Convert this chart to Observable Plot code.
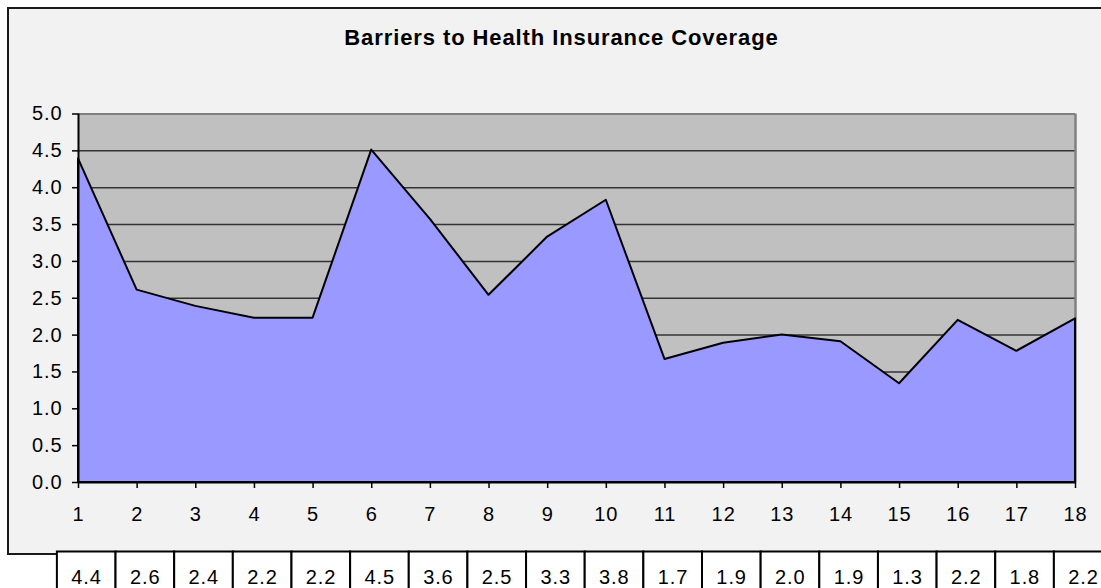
<!DOCTYPE html>
<html><head><meta charset="utf-8">
<script src="https://cdn.jsdelivr.net/npm/d3@7"></script>
<script src="https://cdn.jsdelivr.net/npm/@observablehq/plot@0.6"></script>
<style>
html,body{margin:0;padding:0;background:#fff;overflow:hidden;width:1101px;height:588px;position:relative;}
#frame{position:absolute;left:7px;top:7px;width:1120px;height:544px;border:2px solid #1a1a1a;background:#f2f2f2;}
#chart{position:absolute;left:0;top:0;}
#table{position:absolute;left:0;top:550px;}
svg{font-family:Arial,"Liberation Sans",sans-serif;}
svg text{letter-spacing:0.9px;}
</style></head><body>
<div id="frame"></div><div id="chart"></div><div id="table"></div>
<script>
const title = "Barriers to Health Insurance Coverage";
const categories = [1, 2, 3, 4, 5, 6, 7, 8, 9, 10, 11, 12, 13, 14, 15, 16, 17, 18];
const values = [4.39, 2.61, 2.39, 2.23, 2.23, 4.51, 3.57, 2.54, 3.33, 3.83, 1.67, 1.89, 2.0, 1.91, 1.34, 2.2, 1.78, 2.22];
const tableLabels = ["4.4", "2.6", "2.4", "2.2", "2.2", "4.5", "3.6", "2.5", "3.3", "3.8", "1.7", "1.9", "2.0", "1.9", "1.3", "2.2", "1.8", "2.2"];
const yTicks = [0, 0.5, 1, 1.5, 2, 2.5, 3, 3.5, 4, 4.5, 5];

const data = categories.map((c, i) => ({x: c, y: values[i]}));
const tableData = categories.map((c, i) => ({x: c, label: tableLabels[i]}));
const font = "Arial, 'Liberation Sans', sans-serif";

const main = Plot.plot({
  width: 1101, height: 551,
  marginLeft: 78, marginRight: 26, marginTop: 113.5, marginBottom: 69,
  style: {background: "transparent", fontFamily: font, fontSize: "20px", color: "#000"},
  x: {domain: [1, 18], axis: null},
  y: {domain: [0, 5], axis: null},
  marks: [
    Plot.frame({fill: "#c0c0c0", stroke: null}),
    Plot.ruleY(yTicks.filter(t => t > 0 && t < 5), {stroke: "#333", strokeWidth: 1.5}),
    Plot.ruleY([5], {stroke: "#808080", strokeWidth: 2}),
    Plot.ruleX([18], {stroke: "#808080", strokeWidth: 2.5}),
    Plot.areaY(data, {x: "x", y: "y", fill: "#9999ff", stroke: "#000", strokeWidth: 2}),
    Plot.ruleX([1], {stroke: "#000", strokeWidth: 2}),
    Plot.ruleY([0], {stroke: "#000", strokeWidth: 2}),
    Plot.axisY({ticks: yTicks, tickFormat: d3.format(".1f"), label: null, tickSize: 6, tickPadding: 10, fontSize: 20, stroke: "#000", strokeWidth: 1.5}),
    Plot.axisX({ticks: categories, tickFormat: d => String(d), label: null, tickSize: 6, tickPadding: 18, fontSize: 20, stroke: "#000", strokeWidth: 1.5}),
    Plot.text([title], {text: d => d, frameAnchor: "top", dx: -15.5, dy: -69, lineAnchor: "bottom", fontSize: 22, fontWeight: "bold", fill: "#000"})
  ]
});
document.getElementById("chart").append(main);

const table = Plot.plot({
  width: 1101, height: 40,
  marginLeft: 78, marginRight: 26, marginTop: 1.5, marginBottom: 0,
  style: {background: "transparent", fontFamily: font, fontSize: "20px", color: "#000"},
  x: {domain: [1, 18], axis: null},
  marks: [
    Plot.rect(tableData, {x1: d => d.x - 0.36, x2: d => d.x + 0.64, fill: "#fff", stroke: "#000", strokeWidth: 2}),
    Plot.text(tableData, {x: "x", text: "label", dx: 8, frameAnchor: "top", lineAnchor: "top", dy: 17.5, fontSize: 20, fill: "#000"})
  ]
});
document.getElementById("table").append(table);
</script>
</body></html>
